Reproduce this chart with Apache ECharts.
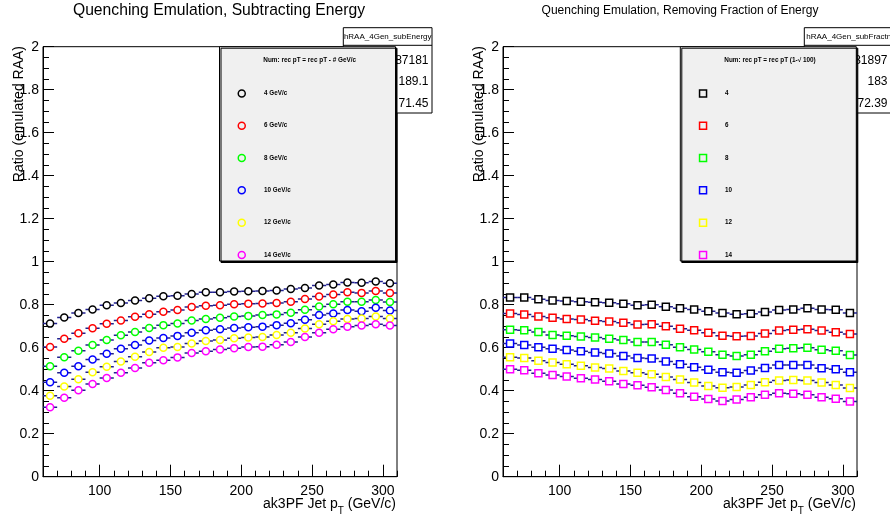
<!DOCTYPE html>
<html>
<head>
<meta charset="utf-8">
<script src="https://cdn.jsdelivr.net/npm/echarts@6/dist/echarts.min.js"></script>
<style>
html,body{margin:0;padding:0;background:#fff;}
#chart{width:890px;height:517px;}
</style>
</head>
<body>
<div id="chart"></div>
<script>
// ---- data ----
const binCenters = [65,75,85,95,105,115,125,135,145,155,165,175,185,195,205,215,225,235,245,255,265,275,285,295,305];

const leftTitle = 'Quenching Emulation, Subtracting Energy';
const rightTitle = 'Quenching Emulation, Removing Fraction of Energy';
const yTitle = 'Ratio (emulated RAA)';
const xTitle = 'ak3PF Jet p{sub|T} (GeV/c)';
const xTickLabels = [100,150,200,250,300];

const leftNames = ['4 GeV/c','6 GeV/c','8 GeV/c','10 GeV/c','12 GeV/c','14 GeV/c'];
const rightNames = ['4','6','8','10','12','14'];
const leftHeader = 'Num: rec pT = rec pT - # GeV/c';
const rightHeader = 'Num: rec pT = rec pT (1-\u221A 100)';

const leftStatsName = 'hRAA_4Gen_subEnergy';
const leftStatsValues = ['87181','189.1','71.45'];
const rightStatsName = 'hRAA_4Gen_subFractn';
const rightStatsValues = ['31897','183','72.39'];

// Subtracting energy
const sub4  = [0.712,0.741,0.761,0.778,0.797,0.808,0.819,0.830,0.839,0.842,0.850,0.858,0.858,0.861,0.863,0.864,0.866,0.873,0.878,0.889,0.894,0.903,0.902,0.908,0.900];
const sub6  = [0.603,0.642,0.667,0.691,0.711,0.727,0.744,0.756,0.767,0.775,0.789,0.795,0.797,0.802,0.805,0.806,0.808,0.814,0.827,0.838,0.847,0.858,0.855,0.864,0.855];
const sub8  = [0.514,0.556,0.586,0.613,0.636,0.658,0.673,0.692,0.705,0.713,0.727,0.733,0.739,0.745,0.748,0.752,0.755,0.763,0.777,0.792,0.802,0.814,0.814,0.822,0.813];
const sub10 = [0.439,0.484,0.514,0.545,0.572,0.595,0.613,0.633,0.645,0.655,0.670,0.681,0.686,0.692,0.695,0.698,0.705,0.714,0.730,0.752,0.759,0.775,0.769,0.786,0.773];
const sub12 = [0.377,0.420,0.453,0.486,0.511,0.536,0.558,0.580,0.600,0.603,0.620,0.631,0.636,0.644,0.647,0.650,0.659,0.669,0.689,0.709,0.723,0.733,0.736,0.745,0.736];
const sub14 = [0.323,0.367,0.402,0.431,0.459,0.484,0.506,0.530,0.542,0.555,0.575,0.584,0.592,0.598,0.603,0.605,0.614,0.627,0.650,0.670,0.686,0.698,0.703,0.709,0.703];

// Removing fraction
const frac4  = [0.834,0.833,0.825,0.820,0.817,0.814,0.811,0.809,0.805,0.797,0.800,0.791,0.783,0.778,0.770,0.761,0.756,0.758,0.766,0.775,0.778,0.783,0.778,0.777,0.761];
const frac6  = [0.759,0.755,0.745,0.739,0.734,0.731,0.725,0.722,0.716,0.708,0.709,0.700,0.688,0.681,0.670,0.656,0.653,0.655,0.666,0.680,0.684,0.686,0.680,0.672,0.664];
const frac8  = [0.684,0.681,0.673,0.659,0.656,0.652,0.647,0.642,0.636,0.627,0.627,0.614,0.602,0.592,0.581,0.567,0.561,0.567,0.584,0.595,0.598,0.600,0.591,0.586,0.566];
const frac10 = [0.620,0.613,0.602,0.595,0.589,0.583,0.578,0.573,0.561,0.552,0.550,0.536,0.523,0.509,0.497,0.486,0.483,0.494,0.506,0.519,0.519,0.520,0.505,0.500,0.486];
const frac12 = [0.556,0.552,0.539,0.531,0.523,0.516,0.508,0.503,0.492,0.483,0.477,0.464,0.452,0.438,0.422,0.414,0.417,0.427,0.439,0.448,0.450,0.447,0.438,0.427,0.413];
const frac14 = [0.500,0.495,0.481,0.473,0.466,0.458,0.452,0.444,0.431,0.425,0.416,0.403,0.388,0.372,0.361,0.352,0.359,0.369,0.381,0.388,0.386,0.381,0.370,0.363,0.350];

const leftSeries = [sub4, sub6, sub8, sub10, sub12, sub14];
const rightSeries = [frac4, frac6, frac8, frac10, frac12, frac14];

// ---- styles ----
const colors = ['#000000','#ff0000','#00ff00','#0000ff','#ffff00','#ff00ff'];
const FONT = 'Liberation Sans, Arial, Helvetica, sans-serif';
const errColor = '#20208f';
const binHalf = 5;

const chart = echarts.init(document.getElementById('chart'), null, {renderer:'canvas'});

function pairs(vals){ return binCenters.map((x,i)=>[x, vals[i]]); }

function errRender(params, api){
  const x = api.value(0), y = api.value(1);
  const a = api.coord([x - binHalf, y]);
  const b = api.coord([x + binHalf, y]);
  return {type:'line', shape:{x1:a[0], y1:a[1], x2:b[0], y2:b[1]},
    style:{stroke:errColor, lineWidth:1.5}};
}

const series = [];
[[leftSeries, leftNames, 0, 0, 'circle'], [rightSeries, rightNames, 2, 1, 'rect']].forEach(([vals, names, xi, yi, sym])=>{
  vals.forEach((v, i)=>{
    series.push({type:'custom', name:'err_'+names[i]+'_'+xi, xAxisIndex:xi, yAxisIndex:yi,
      renderItem:errRender, data:pairs(v), encode:{x:0,y:1}, z:2, silent:true, clip:true});
  });
  vals.forEach((v, i)=>{
    series.push({type:'scatter', name:names[i], xAxisIndex:xi, yAxisIndex:yi,
      symbol:sym, symbolSize:7, data:pairs(v), z:3,
      itemStyle:{color:'#ffffff', borderColor:colors[i], borderWidth:1.5, opacity:1}});
  });
});

function majorX(grid){
  return {type:'value', gridIndex:grid, min:60, max:310, position:'bottom',
    axisLine:{show:true, lineStyle:{color:'#000', width:1}},
    axisTick:{show:true, inside:true, length:12, customValues:xTickLabels, lineStyle:{color:'#000', width:1}},
    axisLabel:{show:true, customValues:xTickLabels, fontFamily:FONT, fontSize:14, color:'#000', margin:7},
    splitLine:{show:false}};
}
function minorX(grid){
  return {type:'value', gridIndex:grid, min:60, max:310, interval:10, position:'bottom',
    axisLine:{show:false}, axisLabel:{show:false}, splitLine:{show:false},
    axisTick:{show:true, inside:true, length:6, lineStyle:{color:'#000', width:1}}};
}
function yAx(grid){
  return {type:'value', gridIndex:grid, min:0, max:2, interval:0.2,
    axisLine:{show:true, lineStyle:{color:'#000', width:1}},
    axisTick:{show:true, inside:true, length:11, lineStyle:{color:'#000', width:1}},
    minorTick:{show:true, splitNumber:4, length:6, lineStyle:{color:'#000', width:1}},
    axisLabel:{fontFamily:FONT, fontSize:14, color:'#000', margin:4},
    splitLine:{show:false}, minorSplitLine:{show:false}};
}

function legendItems(names, icon){
  return names.map((n,i)=>({name:n, icon:icon,
    itemStyle:{color:'#f0f0f0', borderColor:colors[i], borderWidth:1.5}}));
}
function legendCfg(names, icon, left, textPad){
  return {data:legendItems(names, icon), orient:'vertical', left:left, top:89.2,
    itemWidth:7, itemHeight:7, itemGap:23.8, padding:0,
    selectedMode:false, z:20,
    textStyle:{fontFamily:FONT, fontSize:6.3, fontWeight:'bold', color:'#000', lineHeight:7,
      padding:[0,0,0,textPad]}};
}

function statsBox(x, name, nameAlign, nameX, values, valRight){
  const w = (valRight>880?120:88.7);
  const els = [
    {type:'rect', shape:{x:x, y:27.7, width:w, height:85.3}, z:10,
      style:{fill:'#fff', stroke:'#000', lineWidth:1}},
    {type:'line', shape:{x1:x, y1:45.3, x2:x+w, y2:45.3}, z:11,
      style:{stroke:'#000', lineWidth:1}},
    {type:'text', x:nameX, y:36.7, z:11,
      style:{text:name, fill:'#000', font:'8px '+FONT, align:nameAlign, verticalAlign:'middle'}}
  ];
  const ys = [60.7, 82, 103.3];
  values.forEach((v,i)=>els.push({type:'text', x:valRight, y:ys[i], z:11,
    style:{text:v, fill:'#000', font:'12px '+FONT, align:'right', verticalAlign:'middle'}}));
  return els;
}
function legendBox(x, header, headerX){
  return [
    {type:'rect', shape:{x:x, y:46.7, width:176, height:214.3}, z:12,
      style:{fill:'#f0f0f0', stroke:'#000', lineWidth:1, shadowColor:'#000', shadowOffsetX:1.5, shadowOffsetY:1.5, shadowBlur:0}},
    {type:'text', x:headerX, y:60.7, z:13,
      style:{text:header, fill:'#000', font:'bold 6.4px '+FONT, align:'left', verticalAlign:'middle'}}
  ];
}
function xTitleText(xRight){
  return {type:'text', x:xRight, y:496.5, z:5,
    style:{text:xTitle, fill:'#000', font:'14px '+FONT, align:'right', verticalAlign:'top', lineHeight:16,
      rich:{sub:{fontFamily:FONT, fontSize:10, fill:'#000', lineHeight:10, padding:[10,0,0,0], verticalAlign:'top'}}}};
}

const graphics = [].concat(
  statsBox(343.3, leftStatsName, 'center', 387.7, leftStatsValues, 428.5),
  statsBox(804.3, rightStatsName, 'left', 806.3, rightStatsValues, 887.5),
  legendBox(219.5, leftHeader, 263.3),
  legendBox(680.3, rightHeader, 724.3),
  [
    {type:'text', x:19, y:46, rotation:Math.PI/2, z:5,
      style:{text:yTitle, fill:'#000', font:'14px '+FONT, align:'right', verticalAlign:'middle'}},
    {type:'text', x:479, y:46, rotation:Math.PI/2, z:5,
      style:{text:yTitle, fill:'#000', font:'14px '+FONT, align:'right', verticalAlign:'middle'}},
    xTitleText(396),
    xTitleText(856)
  ]
);

const option = {
  backgroundColor:'#ffffff',
  animation:false,
  title:[
    {text:leftTitle, left:219, top:3, textAlign:'center', padding:0,
      textStyle:{fontFamily:FONT, fontSize:15.7, fontWeight:'normal', color:'#000'}},
    {text:rightTitle, left:680, top:5, textAlign:'center', padding:0,
      textStyle:{fontFamily:FONT, fontSize:12, fontWeight:'normal', color:'#000'}}
  ],
  grid:[
    {left:43, top:46.7, width:354, height:430, show:true, borderColor:'#000', borderWidth:1,
      backgroundColor:'transparent', containLabel:false, outerBoundsMode:'none'},
    {left:503, top:46.7, width:354, height:430, show:true, borderColor:'#000', borderWidth:1,
      backgroundColor:'transparent', containLabel:false, outerBoundsMode:'none'}
  ],
  xAxis:[majorX(0), minorX(0), majorX(1), minorX(1)],
  yAxis:[yAx(0), yAx(1)],
  legend:[legendCfg(leftNames,'circle',237.5,13.8), legendCfg(rightNames,'rect',698.8,13.5)],
  graphic:graphics,
  series:series
};
chart.setOption(option);
</script>
</body>
</html>
